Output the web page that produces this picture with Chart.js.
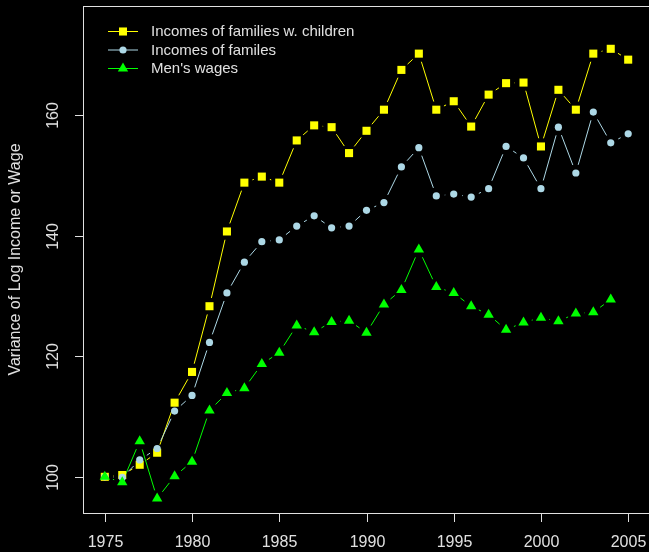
<!DOCTYPE html>
<html lang="en">
<head>
    <meta charset="UTF-8">
    <title>Variance of Log Income or Wage</title>
    <style>
        body {
            margin: 0;
            background: #000;
            overflow: hidden;
        }
        #wrap {
            width: 656px;
            height: 552px;
        }
    </style>
</head>
<body>
    <div id="wrap"><canvas id="chart" width="656" height="552"></canvas></div>

    <script src="https://cdn.jsdelivr.net/npm/chart.js"></script>
    <script>
        // data
        const years = [1975, 1976, 1977, 1978, 1979, 1980, 1981, 1982, 1983, 1984,
                       1985, 1986, 1987, 1988, 1989, 1990, 1991, 1992, 1993, 1994,
                       1995, 1996, 1997, 1998, 1999, 2000, 2001, 2002, 2003, 2004, 2005];
        const familiesWithChildren = [100, 100.3, 102, 104, 112.3, 117.4, 128.3, 140.7, 148.8, 149.8,
                                      148.8, 155.8, 158.3, 158.0, 153.7, 157.4, 160.9, 167.5, 170.2, 160.9,
                                      162.3, 158.1, 163.4, 165.3, 165.4, 154.8, 164.2, 160.9, 170.2, 171.0, 169.2];
        const families = [100, 99.9, 102.8, 104.7, 110.9, 113.5, 122.3, 130.5, 135.6, 139.0,
                          139.3, 141.6, 143.3, 141.3, 141.6, 144.2, 145.5, 151.4, 154.6, 146.6,
                          146.9, 146.4, 147.8, 154.8, 152.9, 147.8, 158.0, 150.4, 160.5, 155.4, 156.9];
        const mensWages = [100, 99.1, 105.9, 96.4, 100.1, 102.5, 111.0, 113.9, 114.7, 118.7,
                           120.6, 125.1, 124.0, 125.7, 125.9, 123.9, 128.6, 131.0, 137.7, 131.5,
                           130.5, 128.3, 126.9, 124.4, 125.6, 126.4, 125.8, 127.1, 127.3, 129.4, null];
        const seriesLabels = ['Incomes of families w. children', 'Incomes of familes', "Men's wages"];
        const xTicks = [1975, 1980, 1985, 1990, 1995, 2000, 2005];
        const yTicks = [100, 120, 140, 160];
        const yTitle = 'Variance of Log Income or Wage';

        const fg = '#e0e0e0';
        const font = 'Liberation Sans, Arial, sans-serif';

        // R type="b": lines broken around each point
        const gapLines = {
            id: 'gapLines',
            beforeDatasetsDraw(chart) {
                const ctx = chart.ctx;
                const gap = 8.5;
                chart.data.datasets.forEach((ds, i) => {
                    const pts = chart.getDatasetMeta(i).data;
                    ctx.save();
                    ctx.strokeStyle = ds.borderColor;
                    ctx.lineWidth = 1;
                    for (let k = 0; k < pts.length - 1; k++) {
                        if (ds.data[k].y == null || ds.data[k + 1].y == null) continue;
                        const a = pts[k], b = pts[k + 1];
                        const dx = b.x - a.x, dy = b.y - a.y;
                        const len = Math.hypot(dx, dy);
                        if (len <= 2 * gap) continue;
                        const ux = dx / len, uy = dy / len;
                        ctx.beginPath();
                        ctx.moveTo(a.x + ux * gap, a.y + uy * gap);
                        ctx.lineTo(b.x - ux * gap, b.y - uy * gap);
                        ctx.stroke();
                    }
                    ctx.restore();
                });
            }
        };

        // box, ticks, tick labels and axis title in base-graphics style
        const rAxes = {
            id: 'rAxes',
            afterDraw(chart) {
                const ctx = chart.ctx;
                const area = chart.chartArea;
                const xs = chart.scales.x, ys = chart.scales.y;
                ctx.save();
                ctx.strokeStyle = fg;
                ctx.lineWidth = 1;
                ctx.strokeRect(Math.round(area.left) + 0.5, Math.round(area.top) + 0.5,
                               Math.round(area.right - area.left), Math.round(area.bottom - area.top));

                ctx.fillStyle = fg;
                ctx.font = '16px ' + font;
                ctx.textAlign = 'center';
                ctx.textBaseline = 'middle';
                xTicks.forEach(v => {
                    const px = Math.round(xs.getPixelForValue(v)) + 0.5;
                    ctx.beginPath();
                    ctx.moveTo(px, area.bottom);
                    ctx.lineTo(px, area.bottom + 9);
                    ctx.stroke();
                    ctx.fillText(String(v), px, area.bottom + 30);
                });
                yTicks.forEach(v => {
                    const py = Math.round(ys.getPixelForValue(v)) + 0.5;
                    ctx.beginPath();
                    ctx.moveTo(area.left, py);
                    ctx.lineTo(area.left - 8, py);
                    ctx.stroke();
                    ctx.save();
                    ctx.translate(area.left - 29, py);
                    ctx.rotate(-Math.PI / 2);
                    ctx.fillText(String(v), 0, 0);
                    ctx.restore();
                });
                ctx.save();
                ctx.translate(16, (area.top + area.bottom) / 2);
                ctx.rotate(-Math.PI / 2);
                ctx.fillText(yTitle, 0, 0);
                ctx.restore();
                ctx.restore();
            }
        };

        // legend without a frame, line through the marker
        const rLegend = {
            id: 'rLegend',
            afterDraw(chart) {
                const ctx = chart.ctx;
                const x0 = 108, x1 = 138, xt = 151;
                const rows = [31, 49.5, 68];
                ctx.save();
                ctx.font = '15px ' + font;
                ctx.textBaseline = 'middle';
                ctx.textAlign = 'left';
                chart.data.datasets.forEach((ds, i) => {
                    const y = rows[i];
                    ctx.strokeStyle = ds.borderColor;
                    ctx.lineWidth = 1;
                    ctx.beginPath();
                    ctx.moveTo(x0, y + 0.5);
                    ctx.lineTo(x1, y + 0.5);
                    ctx.stroke();
                    ctx.fillStyle = ds.pointBackgroundColor;
                    Chart.helpers.drawPoint(ctx, {
                        pointStyle: ds.pointStyle,
                        radius: ds.pointRadius,
                        rotation: 0,
                        borderWidth: 0
                    }, (x0 + x1) / 2, y + 0.5);
                    ctx.fillStyle = fg;
                    ctx.fillText(ds.label, xt, y + 1);
                });
                ctx.restore();
            }
        };

        const toPoints = arr => years.map((yr, i) => ({ x: yr, y: arr[i] }));

        new Chart(document.getElementById('chart').getContext('2d'), {
            type: 'line',
            data: {
                datasets: [
                    {
                        label: seriesLabels[0],
                        data: toPoints(familiesWithChildren),
                        showLine: false,
                        borderColor: '#ffff00',
                        pointBackgroundColor: '#ffff00',
                        pointStyle: 'rect',
                        pointRadius: 5.7,
                        order: 3
                    },
                    {
                        label: seriesLabels[1],
                        data: toPoints(families),
                        showLine: false,
                        borderColor: '#add8e6',
                        pointBackgroundColor: '#add8e6',
                        pointStyle: 'circle',
                        pointRadius: 3.6,
                        order: 2
                    },
                    {
                        label: seriesLabels[2],
                        data: toPoints(mensWages),
                        showLine: false,
                        borderColor: '#00ff00',
                        pointBackgroundColor: '#00ff00',
                        pointStyle: 'triangle',
                        pointRadius: 6,
                        order: 1
                    }
                ]
            },
            options: {
                responsive: false,
                animation: false,
                elements: {
                    point: { borderWidth: 0 }
                },
                layout: {
                    padding: { left: 83, top: 5, right: 4, bottom: 39 }
                },
                scales: {
                    x: { type: 'linear', min: 1973.75, max: 2006.25, display: false },
                    y: { type: 'linear', min: 94.0, max: 178.1, display: false }
                },
                plugins: {
                    legend: { display: false },
                    tooltip: { enabled: false }
                }
            },
            plugins: [gapLines, rAxes, rLegend]
        });
    </script>
</body>
</html>
